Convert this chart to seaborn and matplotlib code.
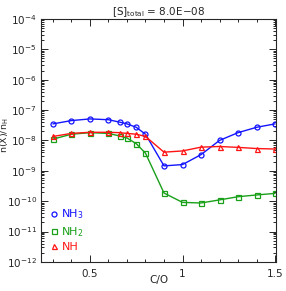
import numpy as np
import pandas as pd
import matplotlib
matplotlib.use('Agg')
import matplotlib.pyplot as plt
import matplotlib.ticker as mticker
from matplotlib.lines import Line2D
import seaborn as sns

# C/O ratios
c_o = [0.3, 0.4, 0.5, 0.6, 0.66, 0.7, 0.75, 0.8, 0.9, 1.0, 1.1, 1.2, 1.3, 1.4, 1.5]

# abundances
nh3 = [3.5e-8, 4.5e-8, 5.1e-8, 4.8e-8, 4.0e-8, 3.5e-8, 2.7e-8, 1.6e-8,
       1.45e-9, 1.6e-9, 3.4e-9, 1.0e-8, 1.8e-8, 2.7e-8, 3.5e-8]
nh2 = [1.1e-8, 1.6e-8, 1.8e-8, 1.7e-8, 1.4e-8, 1.2e-8, 7.8e-9, 3.8e-9,
       1.85e-10, 9.1e-11, 8.7e-11, 1.1e-10, 1.4e-10, 1.6e-10, 1.8e-10]
nh = [1.35e-8, 1.7e-8, 1.85e-8, 1.85e-8, 1.8e-8, 1.7e-8, 1.6e-8, 1.35e-8,
      4.1e-9, 4.5e-9, 6.0e-9, 6.3e-9, 5.9e-9, 5.4e-9, 5.2e-9]

species = ['NH$_3$', 'NH$_2$', 'NH']
colors = ['#1414ff', '#19a019', '#ff1414']
markers = ['o', 's', '^']

df = pd.DataFrame({'C/O': c_o * 3,
                   'abund': nh3 + nh2 + nh,
                   'species': np.repeat(species, len(c_o))})

sns.set_style('ticks')
plt.rcParams['font.family'] = ['DejaVu Sans']
plt.rcParams['mathtext.fontset'] = 'dejavusans'

fig = plt.figure(figsize=(2.86, 2.91), dpi=100)
ax = fig.add_axes([0.143, 0.10, 0.822, 0.835])

for sp, c, m in zip(species, colors, markers):
    sns.lineplot(data=df[df['species'] == sp], x='C/O', y='abund', color=c,
                 marker=m, markersize=3.6, markerfacecolor='none',
                 markeredgecolor=c, markeredgewidth=0.9, linewidth=1.0,
                 ax=ax, legend=False)

ax.set_yscale('log')
ax.set_ylim(1e-12, 1e-4)
ax.set_xlim(0.235, 1.505)
ax.xaxis.set_major_locator(mticker.FixedLocator([0.5, 1.0, 1.5]))
ax.xaxis.set_minor_locator(mticker.MultipleLocator(0.1))
ax.xaxis.set_major_formatter(mticker.FuncFormatter(lambda v, p: f'{v:g}'))
ax.yaxis.set_major_locator(mticker.LogLocator(base=10, numticks=20))
ax.yaxis.set_minor_locator(mticker.LogLocator(base=10, subs=np.arange(2, 10), numticks=20))
ax.yaxis.set_minor_formatter(mticker.NullFormatter())

ax.tick_params(which='both', direction='in', top=True, right=True,
               labelsize=7.5, width=0.7)
ax.tick_params(axis='x', pad=5)
ax.tick_params(axis='y', pad=3)
ax.tick_params(which='major', length=5)
ax.tick_params(which='minor', length=2.5)
for s in ax.spines.values():
    s.set_linewidth(0.8)

ax.set_xlabel('C/O', fontsize=7.5)
ax.xaxis.set_label_coords(0.5, -0.055)
ax.set_ylabel('n(X)/n$_\\mathrm{H}$', fontsize=6.8)
ax.yaxis.set_label_coords(-0.128, 0.52)
ax.set_title('[S]$_\\mathrm{total}$ = 8.0E$-$08', fontsize=7.5, pad=2)

handles = [Line2D([], [], linestyle='none', marker=m, markersize=3.6,
                  markerfacecolor='none', markeredgecolor=c, markeredgewidth=0.9,
                  color=c)
           for c, m in zip(colors, markers)]
leg = ax.legend(handles, species, loc='lower left', frameon=False,
                fontsize=8, handlelength=0.6, handletextpad=0.35,
                labelspacing=0.3, borderaxespad=0.5, labelcolor='linecolor')

fig.savefig('out.png', dpi=100)
